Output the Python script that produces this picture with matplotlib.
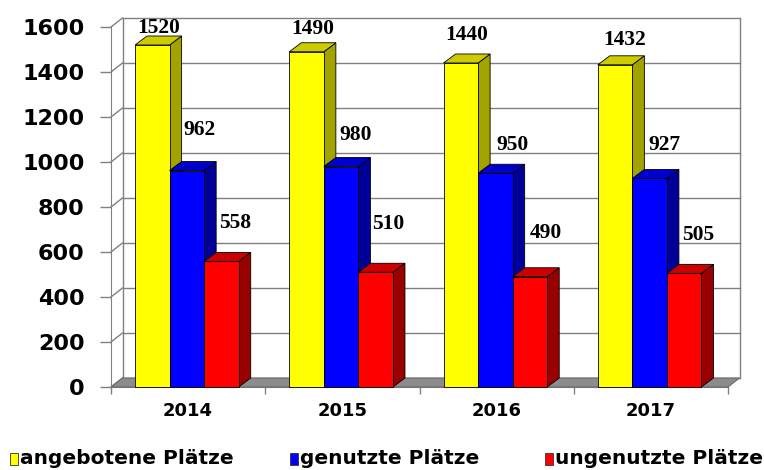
import matplotlib
matplotlib.use("Agg")
import matplotlib.pyplot as plt
from matplotlib.patches import Polygon, Rectangle

# ---- data ----
years = ["2014", "2015", "2016", "2017"]
series = ["angebotene Plätze", "genutzte Plätze", "ungenutzte Plätze"]
angeboten = [1520, 1490, 1440, 1432]
genutzt = [962, 980, 950, 927]
ungenutzt = [558, 510, 490, 505]
y_ticks = [0, 200, 400, 600, 800, 1000, 1200, 1400, 1600]

# where the value labels sit: (px right, px up) from the top of each bar's front
label_shift = [
    [(6, 17), (6, 23), (6, 28), (9, 25)],
    [(13, 41), (14, 31), (17, 28), (15, 33)],
    [(14, 38), (13, 48), (16, 44), (14, 38)],
]

# front / top / side shading of each series
faces = [
    ("#ffff00", "#cccc00", "#a3a300"),
    ("#0000ff", "#0000cc", "#000099"),
    ("#ff0000", "#cc0000", "#990000"),
]

W, H = 764, 470
fig = plt.figure(figsize=(W / 100, H / 100), dpi=100)
ax = fig.add_axes([111 / W, 83 / H, 617 / W, 360 / H])
ax.set_xlim(0, len(years))
ax.set_ylim(0, 1600)

px_x = len(years) / 617.0
px_y = 1600 / 360.0
wx, wy = 11.5 * px_x, 9 * px_y   # depth of the walls
bx, by = 12 * px_x, 9 * px_y     # depth of the columns
grid_c = "#808080"

# back wall, left wall and floor
for v in y_ticks:
    ax.plot([wx, len(years) + wx], [v + wy, v + wy], color=grid_c, lw=1.0,
            clip_on=False, zorder=0.5)
    ax.plot([0, wx], [v, v + wy], color=grid_c, lw=1.0, clip_on=False, zorder=0.5)
ax.plot([wx, wx], [wy, 1600 + wy], color=grid_c, lw=1.0, clip_on=False, zorder=0.5)
ax.plot([len(years) + wx] * 2, [wy, 1600 + wy], color=grid_c, lw=1.0,
        clip_on=False, zorder=0.5)
ax.add_patch(Polygon([(0, 0), (len(years), 0), (len(years) + wx, wy), (wx, wy)],
                     closed=True, fc="#8c8c8c", ec="#6a6a6a", lw=0.8,
                     clip_on=False, zorder=1))

# columns
bw = 0.224
start = 0.156
for i in range(len(years)):
    for k, vals in enumerate([angeboten, genutzt, ungenutzt]):
        v = vals[i]
        x0 = i + start + k * bw
        front, top, side = faces[k]
        ax.add_patch(Polygon([(x0 + bw, 0), (x0 + bw + bx, by), (x0 + bw + bx, v + by),
                              (x0 + bw, v)], closed=True, fc=side, ec="black",
                             lw=0.6, clip_on=False, zorder=2))
        ax.add_patch(Polygon([(x0, v), (x0 + bw, v), (x0 + bw + bx, v + by),
                              (x0 + bx, v + by)], closed=True, fc=top, ec="black",
                             lw=0.6, clip_on=False, zorder=2))
        ax.add_patch(Rectangle((x0, 0), bw, v, fc=front, ec="black", lw=0.6,
                               clip_on=False, zorder=2))
        dx, dy = label_shift[k][i]
        ax.annotate(str(v), xy=(x0 + bw / 2, v), xytext=(dx, dy),
                    textcoords="offset pixels", ha="center", va="center",
                    family="Liberation Serif", fontweight="bold", fontsize=15.5,
                    zorder=5, annotation_clip=False)

# axes styling
for s in ["top", "right"]:
    ax.spines[s].set_visible(False)
for s in ["left", "bottom"]:
    ax.spines[s].set_color(grid_c)
    ax.spines[s].set_zorder(0.5)
ax.set_yticks(y_ticks)
ax.set_yticklabels([str(t) for t in y_ticks], fontsize=16, fontweight="bold",
                   family="DejaVu Sans")
ax.tick_params(axis="y", length=8, width=1, color=grid_c, pad=11)
ax.set_xticks(range(len(years) + 1))
ax.set_xticklabels([""] * (len(years) + 1))
ax.set_xticks([i + 0.5 for i in range(len(years))], minor=True)
ax.set_xticklabels(years, minor=True, fontsize=13, fontweight="bold",
                   family="DejaVu Sans")
ax.tick_params(axis="x", which="major", length=5, width=1, color=grid_c)
ax.tick_params(axis="x", which="minor", length=0, pad=11)
ax.patch.set_visible(False)

# legend along the bottom edge
leg_x = [10, 290, 545]
for k, name in enumerate(series):
    fig.add_artist(Rectangle((leg_x[k] / W, (H - 465) / H), 8 / W, 12 / H,
                             transform=fig.transFigure, fc=faces[k][0],
                             ec="#333333", lw=0.6))
    fig.text((leg_x[k] + 10) / W, (H - 459) / H, name, ha="left", va="center",
             fontsize=14.5, fontweight="bold", family="DejaVu Sans")

fig.savefig("out.png", dpi=100)
